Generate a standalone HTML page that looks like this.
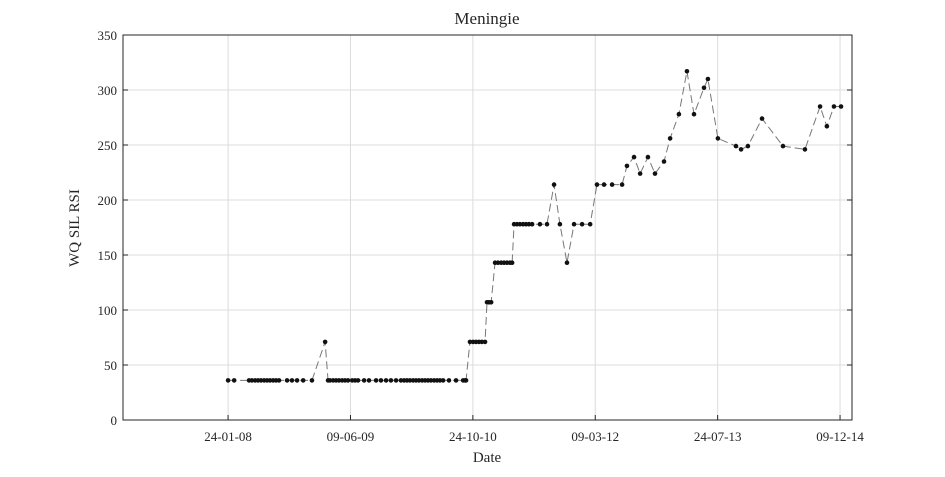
<!DOCTYPE html>
<html><head><meta charset="utf-8"><style>
body{margin:0;background:#fff;}
svg text{font-family:"Liberation Serif",serif;fill:#262626;}
</style></head><body>
<svg width="945" height="472">
<rect width="945" height="472" fill="#fff"/>
<g id="grid"></g><g id="series"></g><g id="axes"></g>
<text x="487" y="24" font-size="17" text-anchor="middle">Meningie</text>
<text x="487" y="462" font-size="15" text-anchor="middle">Date</text>
<text transform="translate(79,228) rotate(-90)" font-size="15" text-anchor="middle">WQ SIL RSI</text>
</svg>
<script>
// days since 2008-01-24
const days=[0,25,86,98,111,123,135,148,160,172,185,197,209,242,262,283,308,344,398,410,418,431,443,455,468,480,492,509,521,533,558,578,607,627,648,668,689,709,722,734,746,759,771,783,796,808,820,832,845,857,869,882,906,935,964,972,976,992,1005,1017,1029,1041,1054,1062,1070,1079,1095,1107,1120,1132,1144,1156,1165,1173,1185,1197,1210,1222,1234,1247,1279,1308,1337,1361,1390,1419,1452,1485,1513,1542,1575,1616,1636,1665,1690,1722,1751,1788,1813,1849,1882,1911,1952,1968,2009,2083,2104,2132,2190,2276,2366,2428,2456,2485,2514];
const values=[36,36,36,36,36,36,36,36,36,36,36,36,36,36,36,36,36,36,71,36,36,36,36,36,36,36,36,36,36,36,36,36,36,36,36,36,36,36,36,36,36,36,36,36,36,36,36,36,36,36,36,36,36,36,36,36,36,71,71,71,71,71,71,107,107,107,143,143,143,143,143,143,143,178,178,178,178,178,178,178,178,178,214,178,143,178,178,178,214,214,214,214,231,239,224,239,224,235,256,278,317,278,302,310,256,249,246,249,274,249,246,285,267,285,285];
const xTickDays=[0,502,1004,1506,2008,2510];
const xTickLabels=["24-01-08","09-06-09","24-10-10","09-03-12","24-07-13","09-12-14"];
const yTicks=[0,50,100,150,200,250,300,350];
const L=123,R=852,T=35,B=420,D0=-431,D1=2559;
const xs=d=>L+(d-D0)/(D1-D0)*(R-L);
const ys=v=>B-v/350*(B-T);
const NS="http://www.w3.org/2000/svg";
function mk(p,t,a){const e=document.createElementNS(NS,t);for(const k in a)e.setAttribute(k,a[k]);p.appendChild(e);return e;}
const grid=document.getElementById('grid'),ax=document.getElementById('axes'),ser=document.getElementById('series');
xTickDays.forEach((d,i)=>{const x=xs(d);
 const g=mk(grid,'line',{x1:x,x2:x,y1:T,y2:B,stroke:'#dcdcdc','stroke-width':1});
 
 
 mk(ax,'line',{x1:x,x2:x,y1:B,y2:B-5,stroke:'#262626'});
 const t=mk(ax,'text',{x:x,y:441,'font-size':13,'text-anchor':'middle'});t.textContent=xTickLabels[i];
 
 });
yTicks.forEach(v=>{const y=ys(v);
 const g=mk(grid,'line',{x1:L,x2:R,y1:y,y2:y,stroke:'#dcdcdc','stroke-width':1});
 
 
 mk(ax,'line',{x1:L,x2:L+5,y1:y,y2:y,stroke:'#262626'});
 mk(ax,'line',{x1:R,x2:R-5,y1:y,y2:y,stroke:'#262626'});
 const t=mk(ax,'text',{x:L-6,y:y+5,'font-size':13,'text-anchor':'end'});t.textContent=v;
 
 });
const box=mk(ax,'rect',{x:L,y:T,width:R-L,height:B-T,fill:'none',stroke:'#262626','stroke-width':1});


const line=mk(ser,'polyline',{points:days.map((d,i)=>xs(d)+','+ys(values[i])).join(' '),fill:'none',stroke:'#777','stroke-width':1,'stroke-dasharray':'8,4'});


days.forEach((d,i)=>{const c=mk(ser,'circle',{cx:xs(d),cy:ys(values[i]),r:2.3,fill:'#111'});
 
 });
</script>
</body></html>
